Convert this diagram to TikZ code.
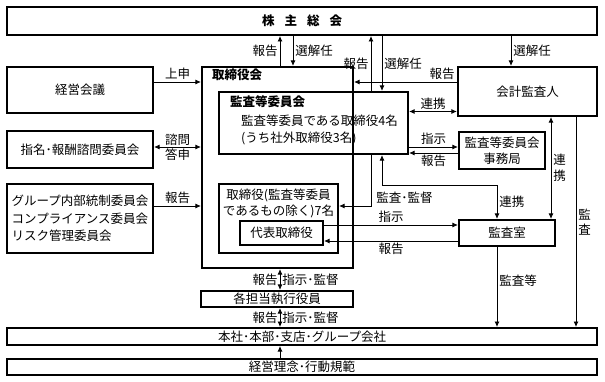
\documentclass[tikz,border=0pt]{standalone}
\usepackage{fontspec}
\setmainfont{Noto Sans CJK JP}
\usetikzlibrary{arrows.meta, positioning, calc}

\begin{document}
\begin{tikzpicture}[x=1pt, y=-1pt, >={Latex[length=5.5pt,width=5pt]}, font=\fontsize{12.5}{17}\selectfont]
        % Styles
        \tikzstyle{box} = [draw, rectangle, line width=2.2pt, inner sep=0pt, align=center]
        \tikzstyle{band} = [draw, rectangle, line width=2pt, inner sep=0pt, minimum width=590pt]
        \tikzstyle{conn} = [line width=0.8pt]
        \tikzstyle{lbl} = [inner sep=2pt]
        \tikzstyle{vlbl} = [inner sep=2pt, align=center, font=\fontsize{12.5}{15.5}\selectfont]

        \useasboundingbox (0,0) rectangle (605,382);

        % Nodes
        \node[band, minimum height=28pt] (soukai) at (302,21) {\textbf{株\hspace{10pt}主\hspace{10pt}総\hspace{10pt}会}};

        \node[box, minimum width=146pt, minimum height=46pt] (keiei) at (80,90) {経営会議};
        \node[box, minimum width=146pt, minimum height=37pt] (shimei) at (80,149.5) {指名･報酬諮問委員会};
        \node[box, minimum width=146pt, minimum height=69pt, align=left, font=\fontsize{12.5}{17.5}\selectfont] (naibu) at (80,218.5) {グループ内部統制委員会\\コンプライアンス委員会\\リスク管理委員会};

        \node[box, minimum width=151pt, minimum height=201pt] (torikai) at (277.5,167.5) {};
        \node[anchor=north west, inner sep=0pt] (torikaitxt) at ([xshift=11pt,yshift=-3pt]torikai.north west) {\textbf{取締役会}};
        \node[box, minimum width=189pt, minimum height=62pt] (iinkai) at (313.5,123) {};
        \node[anchor=north west, inner sep=0pt] (iinkaititle) at ([xshift=12pt,yshift=-5pt]iinkai.north west) {\textbf{監査等委員会}};
        \node[anchor=north west, inner sep=0pt, align=left] (iinkaitxt) at ([xshift=23pt,yshift=-24pt]iinkai.north west) {監査等委員である取締役4名\\(うち社外取締役3名)};
        \node[box, minimum width=119pt, minimum height=69pt] (torishimari) at (278.5,218.5) {};
        \node[anchor=north, inner sep=0pt, align=center, font=\fontsize{12.5}{16}\selectfont] (torishimaritxt) at ([yshift=-6pt]torishimari.north) {取締役(監査等委員\\であるもの除く)7名};
        \node[box, minimum width=83pt, minimum height=24pt] (daihyo) at (281.5,233) {代表取締役};

        \node[box, minimum width=139pt, minimum height=49pt] (kaikei) at (527.5,91.5) {会計監査人};
        \node[box, minimum width=86pt, minimum height=37pt, font=\fontsize{12.5}{15.5}\selectfont] (jimu) at (502,150.5) {監査等委員会\\事務局};
        \node[box, minimum width=96pt, minimum height=26pt] (kansashitsu) at (507,233) {監査室};

        \node[box, minimum width=152pt, minimum height=16pt] (shikko) at (277,299) {各担当執行役員};
        \node[band, minimum height=17pt] (honsha) at (302,336.5) {本社･本部･支店･グループ会社};
        \node[band, minimum height=16pt] (rinen) at (302,367) {経営理念･行動規範};

        % Columns and rows of the connectors
        \coordinate (xa) at (280,0);
        \coordinate (xb) at (293,0);
        \coordinate (xc) at (371,0);
        \coordinate (xd) at (382,0);
        \coordinate (xe) at (511,0);
        \coordinate (xf) at (551,0);
        \coordinate (xg) at (576,0);
        \coordinate (xh) at (497,0);
        \coordinate (ya) at (0,82);
        \coordinate (yb) at (0,111.5);
        \coordinate (yc) at (0,147);
        \coordinate (yd) at (0,153);
        \coordinate (ye) at (0,185);
        \coordinate (yf) at (0,206);
        \coordinate (yg) at (0,225);
        \coordinate (yh) at (0,241);

        % Paths
        \draw[->, conn] (torikai.north -| xa) -- node[left, lbl] (l1) {報告} (soukai.south -| xa);
        \draw[->, conn] (soukai.south -| xb) -- node[right, lbl] (l2) {選解任} (torikai.north -| xb);
        \draw[->, conn] (iinkai.north -| xc) -- node[left, lbl] (l3) {報告} (soukai.south -| xc);
        \draw[->, conn] (soukai.south -| xd) -- node[right, lbl] (l4) {選解任} (iinkai.north -| xd);
        \draw[->, conn] (soukai.south -| xe) -- node[right, lbl] (l5) {選解任} (kaikei.north -| xe);
        \draw[->, conn] (kaikei.west |- ya) -- node[pos=0, anchor=south east, lbl] (l6) {報告} (torikai.east |- ya);

        \draw[->, conn] (keiei.east |- ya) -- node[above, lbl] (l7) {上申} (torikai.west |- ya);
        \draw[<->, conn] (shimei.east |- yc) -- node[inner sep=0pt, align=center, font=\fontsize{12.5}{15}\selectfont] (l8) {諮問\\答申} (torikai.west |- yc);
        \draw[->, conn] (naibu.east |- yf) -- node[above, lbl] (l9) {報告} (torikai.west |- yf);

        \draw[<->, conn] (iinkai.east |- yb) -- node[above, lbl] (l10) {連携} (kaikei.west |- yb);
        \draw[->, conn] (iinkai.east |- yc) -- node[above, lbl] (l11) {指示} (jimu.west |- yc);
        \draw[->, conn] (jimu.west |- yd) -- node[below, lbl] (l12) {報告} (iinkai.east |- yd);
        \draw[<->, conn] (kaikei.south -| xf) -- node[right, vlbl] (l13) {連\\携} (kansashitsu.north -| xf);
        \draw[->, conn] (kaikei.south -| xg) -- node[right, vlbl] (l14) {監\\査} (honsha.north -| xg);

        \draw[->, conn] (iinkai.south -| xc) |- node[pos=0.5, anchor=south west, xshift=3pt, lbl] (l15) {監査･監督} (torishimari.east |- yf);
        \draw[<->, conn] (iinkai.south -| xd) -- (xd |- ye) -- (xh |- ye) -- node[right, lbl] (l16) {連携} (kansashitsu.north -| xh);
        \draw[->, conn] (daihyo.east |- yg) -- node[above, lbl] (l17) {指示} (kansashitsu.west |- yg);
        \draw[->, conn] (kansashitsu.west |- yh) -- node[below, lbl] (l18) {報告} (daihyo.east |- yh);
        \draw[->, conn] (kansashitsu.south -| xh) -- node[pos=0.42, right, lbl] (l19) {監査等} (honsha.north -| xh);

        \draw[<->, conn] (torikai.south -| xa) -- node[left, lbl] (l20) {報告} node[right, lbl] (l21) {指示･監督} (shikko.north -| xa);
        \draw[<->, conn] (shikko.south -| xa) -- node[left, lbl] (l22) {報告} node[right, lbl] (l23) {指示･監督} (honsha.north -| xa);
        \draw[->, conn] (rinen.north -| xa) -- (honsha.south -| xa);
    \end{tikzpicture}
\end{document}
